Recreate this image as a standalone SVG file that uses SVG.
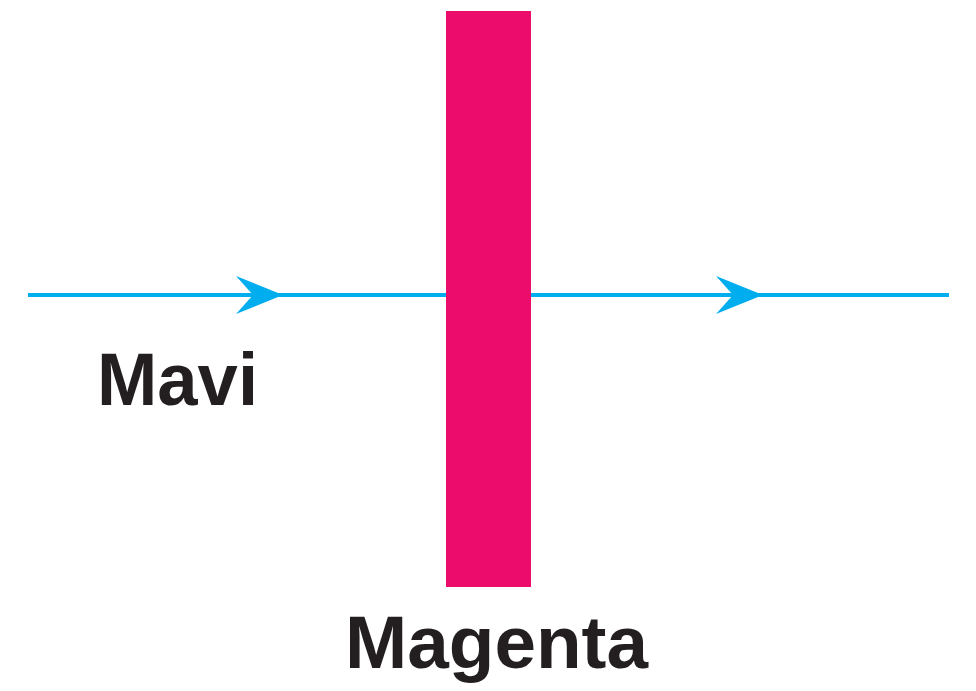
<svg xmlns="http://www.w3.org/2000/svg" width="976" height="691" viewBox="0 0 976 691">
<style>
.ray{stroke:#00aeef;stroke-width:4;fill:none}
.head{fill:#00aeef}
.lbl{font-family:"Liberation Sans",Arial,sans-serif;font-weight:bold;fill:#231f20;font-size:74px}
</style>
<rect width="976" height="691" fill="#fff"/>
<g id="connectors">
<line class="ray" x1="28" y1="295" x2="446" y2="295"/>
<line class="ray" x1="531" y1="295" x2="949" y2="295"/>
<polygon class="head" points="236,276 283,295 236,314 253,295"/>
<polygon class="head" points="716,276 763,295 716,314 733,295"/>
</g>
<g id="filter">
<rect x="446" y="11" width="85" height="576" fill="#ec0c6c"/>
</g>
<g id="label-mavi">
<text class="lbl" x="97" y="405" textLength="161" lengthAdjust="spacingAndGlyphs">Mavi</text>
</g>
<g id="label-magenta">
<text class="lbl" x="345" y="668" font-size="76" textLength="303" lengthAdjust="spacingAndGlyphs">Magenta</text>
</g>
</svg>
